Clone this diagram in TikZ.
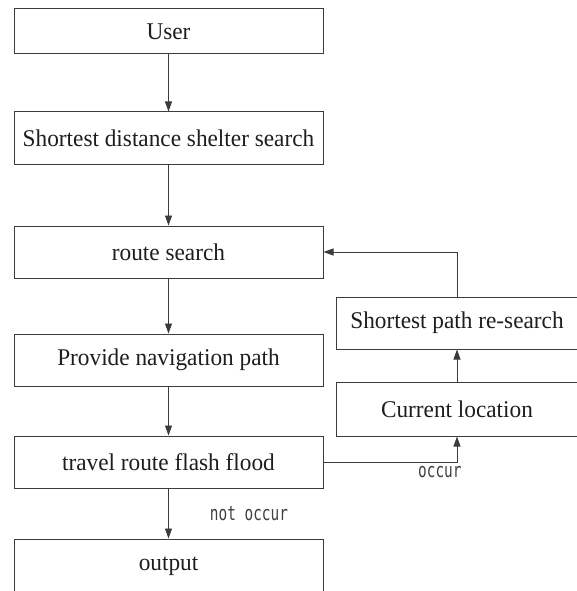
\documentclass[tikz,border=0pt]{standalone}
\usepackage{fontspec}
\setmainfont{Liberation Serif}[FakeStretch=0.97]
\setmonofont{DejaVu Sans Mono}[FakeStretch=0.72]
\usepackage{tikz}
\usetikzlibrary{positioning,arrows.meta}
\usepackage{xcolor}
\definecolor{edge}{HTML}{3C3C3C}
\definecolor{ink}{HTML}{1E1E1E}

\begin{document}
\begin{tikzpicture}[
  x=1pt,y=-1pt,
  blk/.style={draw=edge,line width=1pt,minimum width=309pt,minimum height=52pt,inner sep=0pt,
    text=ink,font=\fontsize{24}{28}\selectfont},
  rblk/.style={blk,minimum width=242pt},
  sig/.style={-{Triangle[length=10pt,width=7pt]},draw=edge,line width=0.9pt},
  lbl/.style={text=ink!85,font=\ttfamily\fontsize{20}{23}\selectfont,inner sep=0pt},
]
\useasboundingbox (0,0) rectangle (577,591);
% main column
\node[blk,minimum height=45pt] (user) at (168.5,31.5) {User};
\node[blk] (shelter) at (168.5,138) {Shortest distance shelter search};
\node[blk] (route)   at (168.5,252) {route search};
\node[blk] (nav)     at (168.5,360) {Provide navigation path};
\node[blk] (flood)   at (168.5,462) {travel route flash flood};
\node[blk,minimum height=54pt] (output) at (168.5,566) {output};
\draw[sig] (user) -- (shelter);
\draw[sig] (shelter) -- (route);
\draw[sig] (route) -- (nav);
\draw[sig] (nav) -- (flood);
\draw[sig] (flood) -- (output)
  node[lbl,midway,anchor=west,xshift=41pt] {not occur};
% re-search loop
\node[rblk] (research) at (457,323) {Shortest path re-search};
\node[rblk,minimum height=54pt] (current) at (457,409) {Current location};
\draw[sig] (flood.east) -| (current.south)
  node[lbl,pos=0.5,anchor=north east,xshift=5pt,yshift=-4pt] {occur};
\draw[sig] (current) -- (research);
\draw[sig] (research.north) |- (route.east);
\end{tikzpicture}
\end{document}
